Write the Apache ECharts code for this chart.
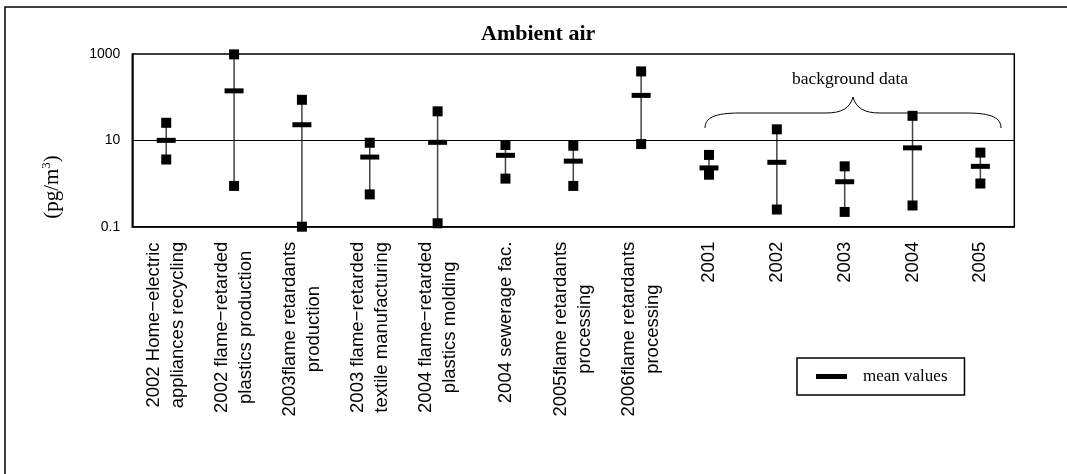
<!DOCTYPE html>
<html><head><meta charset="utf-8">
<script src="https://cdn.jsdelivr.net/npm/echarts@6/dist/echarts.min.js"></script>
<style>html,body{margin:0;padding:0;background:#fff}#c{width:1067px;height:474px}</style>
</head><body><div id="c"></div>
<script>
const categories = [
  '2002 Home\u2212electric\nappliances recycling',
  '2002 flame\u2212retarded\nplastics production',
  '2003flame retardants\nproduction',
  '2003 flame\u2212retarded\ntextile manufacturing',
  '2004 flame\u2212retarded\nplastics molding',
  '2004 sewerage fac.',
  '2005flame retardants\nprocessing',
  '2006flame retardants\nprocessing',
  '2001', '2002', '2003', '2004', '2005'
];
const maxValues  = [25.5, 980, 87, 8.8, 47, 7.8, 7.5, 395, 4.6, 18, 2.5, 37, 5.2];
const meanValues = [10, 140, 23, 4.1, 9.0, 4.5, 3.3, 110, 2.3, 3.1, 1.1, 6.7, 2.5];
const minValues  = [3.6, 0.88, 0.1, 0.56, 0.12, 1.3, 0.88, 8.2, 1.6, 0.25, 0.22, 0.31, 1.0];
const yTickLabels = ['0.1', '10', '1000'];
const referenceLines = [10];

const SANS = "'Liberation Sans', Arial, sans-serif";
const SERIF = "'Liberation Serif', 'Times New Roman', serif";
const chart = echarts.init(document.getElementById('c'), null, {renderer: 'canvas'});
const rangeData = categories.map((c, i) => [i, minValues[i], maxValues[i]]);

const braceStyle = {fill: 'none', stroke: '#000', lineWidth: 1};
function bez(x1, y1, cpx1, cpy1, cpx2, cpy2, x2, y2) {
  return {type: 'bezierCurve', silent: true,
          shape: {x1, y1, cpx1, cpy1, cpx2, cpy2, x2, y2}, style: braceStyle};
}
function seg(x1, y1, x2, y2) {
  return {type: 'line', silent: true, shape: {x1, y1, x2, y2}, style: braceStyle};
}

const option = {
  animation: false,
  backgroundColor: '#fff',
  title: {
    text: 'Ambient air', left: 476, top: 18,
    textStyle: {fontFamily: SERIF, fontWeight: 'bold', fontSize: 22, color: '#000'}
  },
  legend: {
    data: ['mean values'], left: 797, top: 358, icon: 'rect',
    itemWidth: 31, itemHeight: 5, padding: [10, 17, 10, 19],
    borderColor: '#000', borderWidth: 1.5, borderRadius: 0, selectedMode: false,
    itemStyle: {color: '#000', opacity: 1},
    textStyle: {fontFamily: SERIF, fontSize: 17, color: '#000', padding: [0, 0, 0, 11]}
  },
  grid: {left: 132.3, top: 54, width: 882, height: 172.7, show: true,
         borderColor: '#000', borderWidth: 1.5, backgroundColor: 'transparent'},
  xAxis: {
    type: 'category', data: categories, boundaryGap: true,
    axisLine: {lineStyle: {color: '#000', width: 1.5}},
    axisTick: {inside: true, length: 7, interval: 0, lineStyle: {color: '#000', width: 1}},
    splitLine: {show: false},
    axisLabel: {
      interval: 0, rotate: 90, margin: 15,
      formatter: v => v.split('\n').map(s => '{c|' + s + '}').join('\n'),
      rich: {c: {align: 'center', fontFamily: SANS, fontSize: 18.5, lineHeight: 24, color: '#000'}}
    }
  },
  yAxis: {
    type: 'log', logBase: 10, min: 0.1, max: 1000,
    axisLine: {show: true, lineStyle: {color: '#000', width: 1.5}},
    axisTick: {show: false}, splitLine: {show: false},
    axisLabel: {
      margin: 12, fontFamily: SANS, fontSize: 14, color: '#000',
      formatter: v => {
        const k = Math.log10(v);
        const hit = yTickLabels.find(t => Math.abs(Math.log10(parseFloat(t)) - k) < 1e-6);
        return hit || '';
      }
    }
  },
  series: [
    {
      type: 'custom', name: 'range', z: 2, encode: {x: 0, y: [1, 2]}, data: rangeData,
      renderItem: (params, api) => {
        const a = api.coord([api.value(0), api.value(1)]);
        const b = api.coord([api.value(0), api.value(2)]);
        return {type: 'line', shape: {x1: a[0], y1: a[1], x2: b[0], y2: b[1]},
                style: {stroke: '#444', lineWidth: 1.5}};
      }
    },
    {
      type: 'scatter', name: 'max', symbol: 'rect', symbolSize: 10, z: 3,
      itemStyle: {color: '#000', opacity: 1}, data: maxValues,
      markLine: {silent: true, symbol: 'none', label: {show: false},
                 lineStyle: {color: '#000', width: 1, type: 'solid'},
                 data: referenceLines.map(v => ({yAxis: v}))}
    },
    {type: 'scatter', name: 'min', symbol: 'rect', symbolSize: 10, z: 3,
     itemStyle: {color: '#000', opacity: 1}, data: minValues},
    {type: 'scatter', name: 'mean values', symbol: 'rect', symbolSize: [19, 5], z: 4,
     itemStyle: {color: '#000', opacity: 1}, data: meanValues}
  ],
  graphic: [
    {type: 'rect', silent: true, shape: {x: 5, y: 7, width: 1070, height: 480},
     style: {fill: 'none', stroke: '#000', lineWidth: 1.5}},
    bez(705, 128, 705, 118, 714, 113, 740, 113),
    seg(740, 113, 826, 113),
    bez(826, 113, 842, 113, 850, 108, 853, 97),
    bez(853, 97, 856, 108, 864, 113, 880, 113),
    seg(880, 113, 966, 113),
    bez(966, 113, 992, 113, 1001, 118, 1001, 128),
    {type: 'text', silent: true, x: 850, y: 79,
     style: {text: 'background data', x: 0, y: 0, align: 'center', verticalAlign: 'middle',
             textAlign: 'center', textVerticalAlign: 'middle',
             fontFamily: SERIF, fontSize: 17.5, fill: '#000'}},
    {type: 'text', silent: true, x: 52, y: 187, rotation: Math.PI / 2,
     style: {text: '{a|(pg/m}{s|3}{a|)}', x: 0, y: 0, align: 'center', verticalAlign: 'middle',
             textAlign: 'center', textVerticalAlign: 'middle',
             rich: {a: {fontFamily: SERIF, fontSize: 21, lineHeight: 24, fill: '#000'},
                    s: {fontFamily: SERIF, fontSize: 13, lineHeight: 13, verticalAlign: 'top', fill: '#000'}}}}
  ]
};
chart.setOption(option);
</script></body></html>
